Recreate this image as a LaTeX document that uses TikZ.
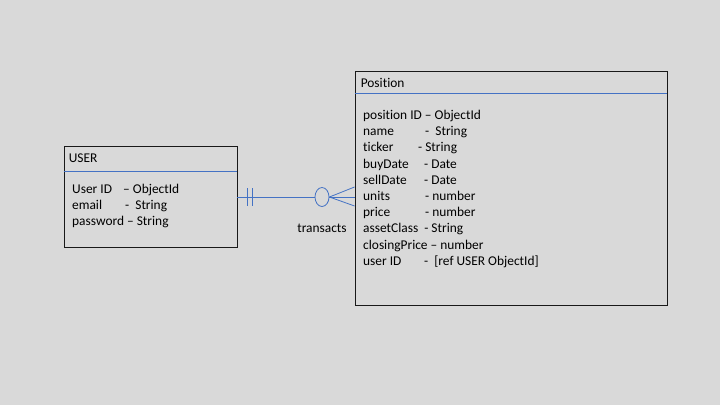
\documentclass[tikz,border=0pt]{standalone}
\usepackage{fontspec}
\setmainfont{Carlito}[Ligatures=NoCommon]
\usepackage{xcolor}
\usepackage{tikz}
\usetikzlibrary{shapes.geometric, positioning, calc}
\definecolor{slidebg}{HTML}{D9D9D9}
\definecolor{relblue}{HTML}{4472C4}
\newcommand{\fld}[2]{\makebox[#1][l]{#2}}
\tikzstyle{entity} = [rectangle, draw=black!90, line width=0.9pt, inner sep=0pt]
\tikzstyle{sep} = [draw=relblue, line width=0.9pt]
\tikzstyle{title} = [anchor=west, inner sep=0pt, font=\fontsize{13.4}{16.2}\selectfont]
\tikzstyle{fields} = [anchor=north west, align=left, inner sep=0pt, font=\fontsize{13.4}{16.2}\selectfont]
\tikzstyle{rel} = [draw=relblue, line width=0.8pt]

\begin{document}
\begin{tikzpicture}[x=1pt, y=-1pt]
    \fill [slidebg] (0,0) rectangle (720,405);
    \useasboundingbox (0,0) rectangle (720,405);

    \node (user) [entity, minimum width=173pt, minimum height=101pt] at (150.5,196.5) {};
    \node (position) [entity, minimum width=312pt, minimum height=234pt] at (511,188) {};

    \draw [sep] ([yshift=-26pt]user.north west) -- ([yshift=-26pt]user.north east);
    \draw [sep] ([yshift=-23pt]position.north west) -- ([yshift=-23pt]position.north east);

    \node (usertitle) [title] at ([xshift=5pt,yshift=-13pt]user.north west) {USER};
    \node (postitle) [title] at ([xshift=6pt,yshift=-12pt]position.north west) {Position};

    \node (userfields) [fields] at (72,184) {%
        \fld{51pt}{User ID}-- ObjectId\\
        \fld{53pt}{email}-\ \ String\\
        password -- String};
    \node (posfields) [fields] at (363,110) {%
        position ID -- ObjectId\\
        \fld{62pt}{name}-\ \ String\\
        \fld{55pt}{ticker}- String\\
        \fld{61pt}{buyDate}- Date\\
        \fld{61pt}{sellDate}- Date\\
        \fld{62pt}{units}- number\\
        \fld{62pt}{price}- number\\
        assetClass\ \ - String\\
        closingPrice -- number\\
        \fld{61pt}{user ID}-\ \ [ref USER ObjectId]};

    \node (opt) [ellipse, draw=relblue, line width=0.8pt, minimum width=14pt, minimum height=19pt, inner sep=0pt] at (322,197) {};
    \coordinate (foot) at ([yshift=-9pt]position.west);

    \draw [rel] (user.east |- opt) -- (opt.west);
    \draw [rel] ([xshift=10pt,yshift=9pt]user.east |- opt) -- ([xshift=10pt,yshift=-9pt]user.east |- opt);
    \draw [rel] ([xshift=15pt,yshift=9pt]user.east |- opt) -- ([xshift=15pt,yshift=-9pt]user.east |- opt);
    \draw [rel] (opt.east) -- (foot);
    \draw [rel] (opt.east) -- ([yshift=10pt]foot);
    \draw [rel] (opt.east) -- ([yshift=-9pt]foot);

    \node (lbl) [title, anchor=center] at (322,228) {transacts};
\end{tikzpicture}
\end{document}
